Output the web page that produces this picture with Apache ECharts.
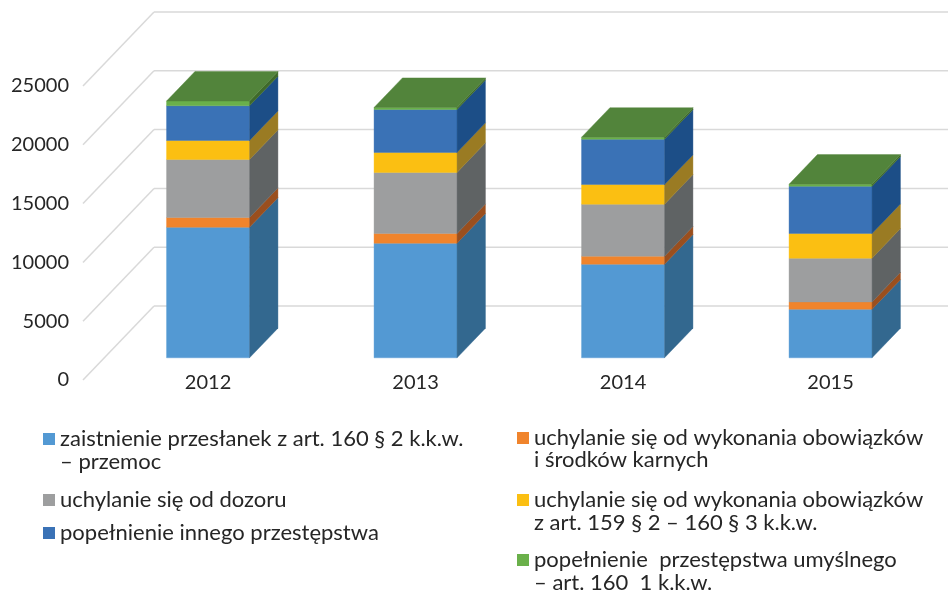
<!DOCTYPE html>
<html><head><meta charset="utf-8">
<script src="https://cdn.jsdelivr.net/npm/echarts@6/dist/echarts.min.js"></script>
<style>html,body{margin:0;padding:0;background:#fff}#c{width:948px;height:591px}</style>
</head><body><div id="c"></div>
<script>
// ---- data ----
const categories = ['2012', '2013', '2014', '2015'];
const yTicks = [0, 5000, 10000, 15000, 20000, 25000];
const przemoc = [11100, 9745, 7960, 4130];
const srodkiKarne = [830, 825, 680, 620];
const dozor = [4930, 5190, 4420, 3720];
const obowiazki159 = [1620, 1700, 1675, 2100];
const innePrzestepstwo = [2950, 3655, 3850, 4020];
const umyslne = [400, 170, 170, 170];

const nameLines = [
  ['zaistnienie przesłanek z art. 160 § 2 k.k.w.', '– przemoc'],
  ['uchylanie się od wykonania obowiązków', 'i środków karnych'],
  ['uchylanie się od dozoru', ''],
  ['uchylanie się od wykonania obowiązków', 'z art. 159 § 2 – 160 § 3 k.k.w.'],
  ['popełnienie innego przestępstwa', ''],
  ['popełnienie  przestępstwa umyślnego', '– art. 160  1 k.k.w.']
];
const values = [przemoc, srodkiKarne, dozor, obowiazki159, innePrzestepstwo, umyslne];

// ---- styles ----
const frontColors = ['#5399D3', '#F0842C', '#9D9E9F', '#FBBF12', '#3A72B6', '#6AB04A'];
const sideColors  = ['#33688F', '#9A4F1E', '#5F6364', '#9A7B23', '#1C4E87', '#3F6A2A'];
const topColor = '#52843B';
const FONT = 'Lato, "Open Sans", sans-serif';
const TXT = '#262626';
const LEG_FS = 22;
const DX = 71, DY = 74;        // floor depth projection (px)
const D0 = 0.3, D1 = 0.7;      // bar depth range within floor
const BAR_FRAC = 0.4;

const fullNames = nameLines.map(l => (l[0] + ' ' + l[1]).trim());
const firstLine = {};
fullNames.forEach((n, i) => firstLine[n] = nameLines[i][0]);

// cumulative stacking
const cum = categories.map(() => 0);
const barSeries = values.map((arr, si) => {
  const data = arr.map((v, ci) => {
    const lo = cum[ci]; cum[ci] += v;
    return [ci, lo, cum[ci]];
  });
  const isTop = si === values.length - 1;
  return {
    type: 'custom',
    name: fullNames[si],
    itemStyle: { color: frontColors[si] },
    clip: false,
    z: 3,
    encode: { x: 0, y: [1, 2] },
    data: data,
    renderItem: function (params, api) {
      const ci = api.value(0), lo = api.value(1), hi = api.value(2);
      const bw = api.size([1, 0])[0] * BAR_FRAC;
      const pLo = api.coord([ci, lo]), pHi = api.coord([ci, hi]);
      const x0 = pLo[0] - bw / 2 + D0 * DX, x1 = x0 + bw;
      const yLo = pLo[1] - D0 * DY, yHi = pHi[1] - D0 * DY;
      const ddx = (D1 - D0) * DX, ddy = (D1 - D0) * DY;
      const children = [
        { type: 'polygon', shape: { points: [[x0, yLo], [x1, yLo], [x1, yHi], [x0, yHi]] },
          style: { fill: frontColors[si], stroke: frontColors[si], lineWidth: 0.4 } },
        { type: 'polygon', shape: { points: [[x1, yLo], [x1 + ddx, yLo - ddy], [x1 + ddx, yHi - ddy], [x1, yHi]] },
          style: { fill: sideColors[si], stroke: sideColors[si], lineWidth: 0.4 } }
      ];
      if (isTop) {
        children.push({ type: 'polygon', shape: { points: [[x0, yHi], [x1, yHi], [x1 + ddx, yHi - ddy], [x0 + ddx, yHi - ddy]] },
          style: { fill: topColor, stroke: topColor, lineWidth: 0.4 } });
      }
      return { type: 'group', children: children };
    }
  };
});

const gridSeries = {
  type: 'custom',
  name: '_grid',
  silent: true,
  clip: false,
  z: 1,
  data: yTicks.map(v => [0, v]),
  encode: { x: 0, y: 1 },
  renderItem: function (params, api) {
    const cs = params.coordSys;
    const y = api.coord([0, api.value(1)])[1];
    const st = { stroke: '#D9D9D9', lineWidth: 1.5, fill: null };
    return { type: 'group', children: [
      { type: 'line', shape: { x1: cs.x, y1: y, x2: cs.x + DX, y2: y - DY }, style: st },
      { type: 'line', shape: { x1: cs.x + DX, y1: y - DY, x2: cs.x + cs.width + DX, y2: y - DY }, style: st }
    ]};
  }
};

// legends
const legendPos = [[43, 428], [517, 427], [43, 489], [517, 489], [43, 522], [517, 549]];
const legends = fullNames.map((n, i) => ({
  data: [n], left: legendPos[i][0], top: legendPos[i][1], padding: 0,
  itemWidth: 12, itemHeight: 12, icon: 'rect', selectedMode: false,
  formatter: name => firstLine[name],
  textStyle: { fontFamily: FONT, fontSize: LEG_FS, color: TXT }
}));
const secondLinePos = [[60, 462], [534, 460], null, [534, 523], null, [534, 583]];
const graphics = [];
nameLines.forEach((l, i) => {
  if (l[1]) graphics.push({ type: 'text', x: secondLinePos[i][0], y: secondLinePos[i][1],
    style: { text: l[1], font: LEG_FS + 'px ' + FONT, fill: TXT, verticalAlign: 'middle', align: 'left' } });
});

const chart = echarts.init(document.getElementById('c'));
chart.setOption({
  animation: false,
  backgroundColor: '#fff',
  grid: { left: 83, right: 35, top: 86, bottom: 211, containLabel: false, outerBoundsMode: 'none' },
  xAxis: {
    type: 'category', data: categories,
    axisLine: { show: false }, axisTick: { show: false }, splitLine: { show: false },
    axisLabel: { fontFamily: FONT, fontSize: 20, color: TXT, margin: 3, verticalAlign: 'middle', padding: [0, 0, 0, 2 * D0 * DX] }
  },
  yAxis: {
    type: 'value', min: 0, max: 25000, interval: 5000,
    axisLine: { show: false }, axisTick: { show: false }, splitLine: { show: false },
    axisLabel: { fontFamily: FONT, fontSize: 20, color: TXT, margin: 14, formatter: v => String(v) }
  },
  legend: legends,
  graphic: graphics,
  series: [gridSeries].concat(barSeries)
});
</script></body></html>
